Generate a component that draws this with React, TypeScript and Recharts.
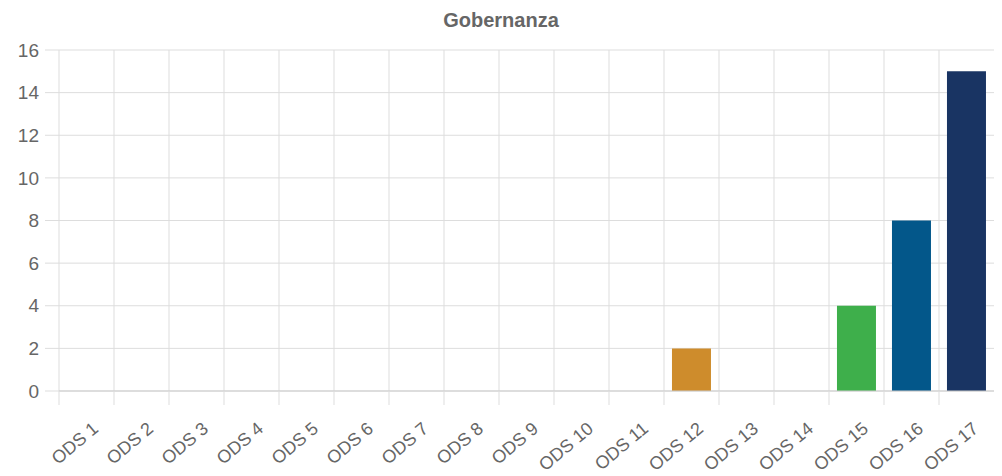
import React from "react";
import { BarChart, Bar, XAxis, YAxis, CartesianGrid, Cell } from "recharts";

const categories = [
  "ODS 1", "ODS 2", "ODS 3", "ODS 4", "ODS 5", "ODS 6", "ODS 7", "ODS 8", "ODS 9",
  "ODS 10", "ODS 11", "ODS 12", "ODS 13", "ODS 14", "ODS 15", "ODS 16", "ODS 17",
];
const values = [0, 0, 0, 0, 0, 0, 0, 0, 0, 0, 0, 2, 0, 0, 4, 8, 15];
const barColors = [
  "#E5243B", "#DDA63A", "#4C9F38", "#C5192D", "#FF3A21", "#26BDE2", "#FCC30B", "#A21942", "#FD6925",
  "#DD1367", "#FD9D24", "#CE8C2C", "#3F7E44", "#0A97D9", "#3EAF4B", "#03578A", "#193463",
];
const yTicks = [0, 2, 4, 6, 8, 10, 12, 14, 16];
const title = "Gobernanza";

const data = categories.map((name, i) => ({ name, value: values[i] }));

const W = 1002;
const H = 476;
const LEFT = 59;
const RIGHT = 8;
const TOP = 50;
const XAXIS_H = 85;
const PLOT_W = W - LEFT - RIGHT;
const BAND = PLOT_W / categories.length;
const GRID = "#dddddd";
const TEXT = "#666666";
const FONT = "'Liberation Sans', Arial, Helvetica, sans-serif";
const ANGLE = -40;

const XTick = (props: any) => {
  const { x, y, payload } = props;
  const bx = x - BAND / 2;
  const tx = x + 9;
  const ty = y + 35;
  return (
    <g className="xtick">
      <line x1={bx} x2={bx} y1={y} y2={y + 14} stroke={GRID} strokeWidth={1} />
      <text
        x={tx}
        y={ty}
        transform={`rotate(${ANGLE}, ${tx}, ${ty})`}
        textAnchor="end"
        dominantBaseline="central"
        fill={TEXT}
        fontSize={18}
        fontFamily={FONT}
      >
        {payload.value}
      </text>
    </g>
  );
};

export default function App() {
  return (
    <div style={{ position: "relative", width: W, height: H, background: "#fff" }}>
      <style>{`body{margin:0}`}</style>
      <div
        style={{
          position: "absolute",
          top: 9,
          left: 0,
          width: W,
          textAlign: "center",
          fontFamily: FONT,
          fontWeight: "bold",
          fontSize: 20,
          color: TEXT,
          lineHeight: "22px",
        }}
      >
        {title}
      </div>
      <BarChart
        width={W}
        height={H}
        data={data}
        margin={{ top: TOP, right: RIGHT, left: 0, bottom: 0 }}
        barCategoryGap="14.5%"
      >
        <CartesianGrid
          stroke={GRID}
          verticalCoordinatesGenerator={(p: any) =>
            categories.map((_, i) => p.offset.left + (i * p.offset.width) / categories.length)
          }
        />
        <XAxis
          dataKey="name"
          height={XAXIS_H}
          interval={0}
          tickLine={false}
          tickSize={0}
          tickMargin={0}
          axisLine={{ stroke: "#cccccc" }}
          tick={(p: any) => <XTick {...p} />}
        />
        <YAxis
          width={LEFT}
          domain={[0, 16]}
          ticks={yTicks}
          interval={0}
          axisLine={false}
          tickLine={{ stroke: GRID }}
          tickSize={14}
          tickMargin={6}
          tick={{ fill: TEXT, fontSize: 19, fontFamily: FONT }}
        />
        <Bar dataKey="value" isAnimationActive={false}>
          {data.map((_, i) => (
            <Cell key={i} fill={barColors[i]} />
          ))}
        </Bar>
      </BarChart>
    </div>
  );
}
